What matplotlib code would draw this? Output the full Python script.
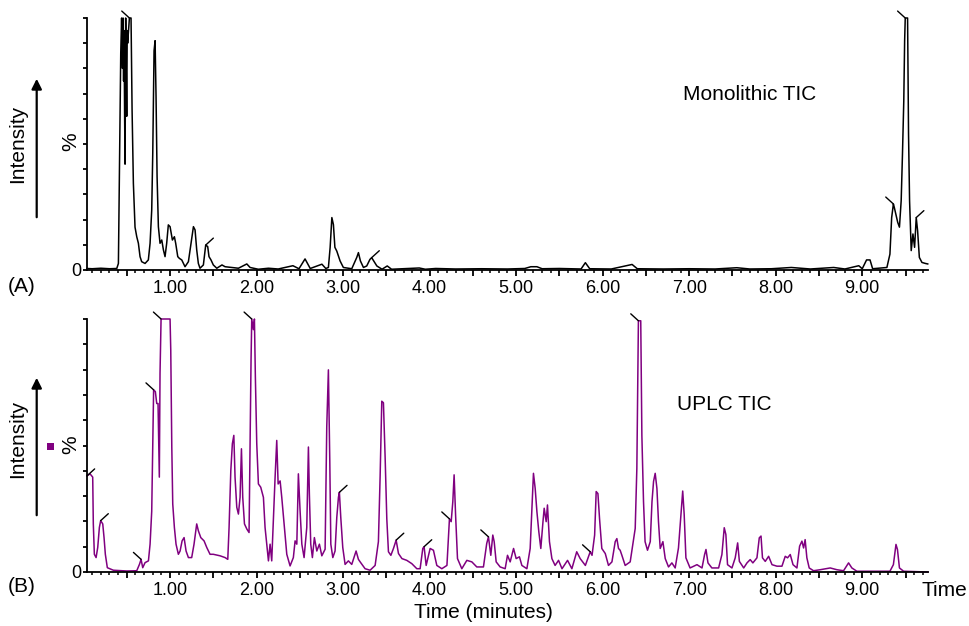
import numpy as np
import matplotlib
matplotlib.use('Agg')
import matplotlib.pyplot as plt
from matplotlib.ticker import MultipleLocator, FuncFormatter
from matplotlib.patches import Rectangle, FancyArrowPatch

plt.rcParams['font.family'] = ['Liberation Sans', 'DejaVu Sans']

# Monolithic TIC trace (time in minutes, intensity in %)
mono_time = [0.04, 0.10, 0.20, 0.30, 0.384, 0.403, 0.414, 0.43, 0.44, 0.45, 0.457, 0.463, 0.468, 0.475, 0.48,
             0.487, 0.493, 0.499, 0.505, 0.51,
             0.53, 0.549, 0.561, 0.576, 0.595, 0.615, 0.634, 0.653, 0.672, 0.711, 0.749, 0.769, 0.788, 0.80,
             0.815, 0.827, 0.838, 0.85, 0.865, 0.884, 0.904, 0.923, 0.942, 0.961, 0.98, 1.0, 1.027, 1.05,
             1.065, 1.089, 1.108, 1.135, 1.173, 1.212, 1.243, 1.27, 1.289, 1.308, 1.327, 1.346, 1.385, 1.412,
             1.435, 1.45, 1.473, 1.5, 1.54, 1.6, 1.636, 1.713, 1.79, 1.887, 1.925, 2.02, 2.137, 2.25, 2.42,
             2.49, 2.56, 2.62, 2.755, 2.80, 2.83, 2.85, 2.87, 2.888, 2.905, 2.927, 2.965, 3.003, 3.1, 3.158,
             3.177, 3.2, 3.235, 3.273, 3.31, 3.33, 3.39, 3.45, 3.51, 3.56, 3.7, 3.88, 3.95, 4.07, 4.3, 4.6,
             4.9, 5.1, 5.17, 5.24, 5.3, 5.5, 5.75, 5.80, 5.85, 6.1, 6.34, 6.4, 6.7, 7.0, 7.3, 7.55, 7.7, 7.95,
             8.18, 8.4, 8.67, 8.8, 8.96, 9.0, 9.05, 9.09, 9.12, 9.285, 9.32, 9.34, 9.36, 9.37, 9.41, 9.43,
             9.45, 9.465, 9.48, 9.49, 9.497, 9.524, 9.535, 9.547, 9.566, 9.586, 9.605, 9.624, 9.64, 9.66,
             9.69, 9.73, 9.757]
mono_int = [0.6, 0.5, 0.7, 0.5, 0.6, 2.6, 37, 86, 100, 80, 100, 75, 95, 60, 42,
            100, 80, 61, 95, 90,
            100, 100, 63.5, 34.4, 17, 13.2, 10.6, 5.3, 3.3, 2.6, 4.0, 10.6, 23.8, 46.3,
            87, 91, 68.8, 37, 17.2, 10.6, 11.9, 8, 5.3, 10.6, 17.9, 17.2, 11.9, 13.2,
            10.6, 5.3, 4.6, 4.0, 1.3, 3.3, 10.6, 17.2, 15.9, 8, 2.6, 0.7, 2.0, 9.9,
            9.3, 5.3, 4.0, 2.0, 0.7, 2.0, 1.3, 1.0, 0.7, 2.4, 1.0, 0.3, 0.7, 0.4, 1.7,
            0.5, 4.4, 0.6, 2.3, 0.6, 1.0, 8.9, 20.8, 18, 9, 7.5, 3.6, 1.0, 0.5, 5,
            6.9, 3.6, 1.0, 1.6, 4.2, 4.9, 1.6, 0.3, 1.6, 0.3, 0.5, 0.8, 0.3, 0.6, 0.4, 0.5,
            0.4, 0.6, 1.3, 1.3, 0.5, 0.6, 0.4, 2.9, 0.5, 0.4, 2.2, 0.5, 0.4, 0.5, 0.4, 0.9, 0.4, 0.5,
            1.0, 0.4, 1.0, 0.4, 1.7, 0.5, 4, 4, 0.5, 1.0, 6.3, 20.8, 26.2, 24.9, 18.9, 17,
            27.5, 46, 67, 91, 100, 100, 54, 27.5, 7.7, 14.3, 9, 20.8, 15.5, 5,
            3, 2.6, 2.4]

# UPLC TIC trace
uplc_time = [0.04, 0.075, 0.106, 0.113, 0.125, 0.145, 0.164, 0.183, 0.198, 0.222, 0.237, 0.252, 0.275, 0.345,
             0.5, 0.615, 0.646, 0.665, 0.684, 0.711, 0.75, 0.769, 0.788, 0.8, 0.81, 0.83, 0.846, 0.861, 0.876,
             0.884, 0.896, 1.0, 1.008, 1.02, 1.031, 1.05, 1.069, 1.096, 1.116, 1.139, 1.162, 1.185, 1.212,
             1.25, 1.277, 1.308, 1.327, 1.355, 1.393, 1.424, 1.462, 1.5, 1.578, 1.636, 1.667, 1.682, 1.702,
             1.72, 1.737, 1.751, 1.771, 1.79, 1.809, 1.825, 1.84, 1.86, 1.887, 1.913, 1.925, 1.936, 1.944,
             1.963, 1.975, 1.986, 2.002, 2.021, 2.048, 2.079, 2.098, 2.118, 2.137, 2.156, 2.175, 2.195, 2.214,
             2.233, 2.249, 2.272, 2.291, 2.318, 2.349, 2.387, 2.425, 2.445, 2.465, 2.483, 2.503, 2.523, 2.549,
             2.58, 2.599, 2.61, 2.626, 2.645, 2.668, 2.696, 2.726, 2.754, 2.792, 2.811, 2.83, 2.846, 2.858,
             2.881, 2.907, 2.927, 2.946, 2.957, 2.973, 2.996, 3.023, 3.061, 3.1, 3.15, 3.177, 3.197, 3.254,
             3.312, 3.37, 3.408, 3.428, 3.447, 3.466, 3.486, 3.505, 3.524, 3.552, 3.582, 3.613, 3.64, 3.68,
             3.736, 3.794, 3.852, 3.89, 3.921, 3.936, 3.96, 4.006, 4.044, 4.083, 4.141, 4.2, 4.229, 4.249,
             4.268, 4.283, 4.3, 4.322, 4.372, 4.43, 4.488, 4.545, 4.622, 4.66, 4.68, 4.707, 4.73, 4.746,
             4.769, 4.815, 4.873, 4.9, 4.931, 4.97, 5.0, 5.038, 5.066, 5.124, 5.162, 5.185, 5.2, 5.22, 5.24,
             5.262, 5.285, 5.31, 5.324, 5.347, 5.362, 5.385, 5.413, 5.45, 5.49, 5.53, 5.594, 5.644, 5.7,
             5.74, 5.8, 5.856, 5.877, 5.907, 5.925, 5.945, 5.964, 5.99, 6.03, 6.067, 6.107, 6.145, 6.164,
             6.183, 6.202, 6.222, 6.26, 6.318, 6.376, 6.395, 6.413, 6.44, 6.453, 6.472, 6.49, 6.518, 6.55,
             6.57, 6.588, 6.607, 6.627, 6.645, 6.665, 6.696, 6.723, 6.761, 6.8, 6.838, 6.876, 6.905, 6.925,
             6.942, 6.962, 7.01, 7.09, 7.148, 7.178, 7.194, 7.217, 7.262, 7.34, 7.378, 7.405, 7.424, 7.443,
             7.494, 7.532, 7.56, 7.58, 7.63, 7.668, 7.705, 7.736, 7.783, 7.81, 7.83, 7.847, 7.879, 7.918,
             7.957, 8.014, 8.072, 8.11, 8.137, 8.168, 8.2, 8.245, 8.276, 8.303, 8.322, 8.34, 8.36, 8.387,
             8.437, 8.514, 8.63, 8.707, 8.784, 8.842, 8.88, 8.938, 9.13, 9.32, 9.36, 9.39, 9.407, 9.43,
             9.478, 9.76]
uplc_int = [38, 38.8, 37.5, 19, 7, 5.7, 9.7, 17.6, 20.3, 19, 13.6, 7, 1.7, 0.7,
            0.4, 0.5, 3, 5, 1.7, 3.7, 4.4, 11, 24, 50.7, 72, 71.3, 66.6, 66.6, 37.5,
            78.5, 100, 100, 87.8, 49.4, 26.9, 17.6, 11, 7, 8.3, 12.3, 13.6, 8.3, 5.7,
            5.7, 11, 19, 16.3, 13.6, 12.3, 9.7, 7, 7, 6.4, 5.7, 5, 17.6, 40,
            50.7, 54, 37.5, 25.6, 22.9, 29.5, 48.7, 29.5, 19, 17, 15.6, 50.7, 83.8, 100,
            95.8, 100, 77, 50.7, 34.8, 33.5, 29.5, 17.6, 11, 4.4, 11, 4.4, 21.6, 37.5,
            52, 34.8, 36, 29.5, 19, 7, 2.4, 5.7, 12.3, 11, 38.8, 24, 11, 5.7,
            17.6, 49.4, 30.9, 11, 5.7, 13.6, 8.3, 11, 6.4, 9, 57.4, 79.9, 44, 11,
            5.7, 8.3, 21.6, 29.5, 31.5, 21.6, 9.7, 3, 4.4, 3, 8.3, 5, 4, 1.3,
            0.7, 2.6, 12, 38, 67.5, 66.9, 45, 21, 8, 6.6, 9.3, 12.6, 7.3, 5.3,
            4.6, 3.3, 1.3, 1.3, 9.3, 10, 2.6, 9.3, 8.6, 2.6, 1.3, 2.6, 21, 19.9,
            27.8, 38.4, 22.5, 5.3, 1.3, 4.6, 4, 2, 2, 11.3, 13.9, 6.6, 14.6, 12,
            4, 2, 1.3, 6.6, 4, 9.3, 5.3, 6, 2.6, 1.3, 9.3, 27.8, 39, 33, 23.8,
            15.9, 9.3, 19.9, 25.2, 19.9, 26.5, 12, 5.3, 2.6, 4.6, 1.3, 4.6, 1.3, 8,
            5.3, 2.6, 8, 6.6, 14.6, 31.8, 31, 21, 9.3, 7.3, 2.6, 4, 12, 13.2,
            9.3, 8.6, 6.6, 2.6, 4, 17.2, 41, 99.3, 99.3, 54, 27.8, 12, 8.6, 12,
            27.8, 35.8, 39, 33, 19.9, 9.3, 12, 5.3, 2, 3.6, 1.6, 9.5, 22.8, 32,
            22.8, 5.6, 1.6, 2.9, 1.6, 6.9, 8.9, 3.6, 1.6, 1.6, 6.9, 17.5, 14.8, 2.9,
            1.6, 5.6, 11.5, 4.2, 1.6, 3.6, 4.9, 3.6, 5.6, 13.5, 14.2, 5.6, 4.2, 6.2,
            2.9, 2.3, 2.3, 6.2, 5.6, 6.9, 2.9, 1.6, 10.2, 12.2, 9.5, 12.8, 5.6, 1.6,
            0.5, 0.9, 1.6, 0.9, 0.5, 3.6, 1.6, 0.3, 0.3, 0.3, 2.9, 10.9, 8.9, 1.6,
            0.3, 0.0]

# labelled peaks: (time, mark direction)
mono_marks = [(0.53, 'ul'), (1.412, 'ur'), (3.33, 'ur'), (9.36, 'ul'), (9.497, 'ul'), (9.624, 'ur')]
uplc_marks = [(0.04, 'ur'), (0.198, 'ur'), (0.665, 'ul'), (0.81, 'ul'), (0.896, 'ul'), (1.944, 'ul'),
              (2.957, 'ur'), (3.613, 'ur'), (3.936, 'ur'), (4.229, 'ul'), (4.68, 'ul'), (5.856, 'ul'),
              (6.413, 'ul')]

W, H = 969, 626
fig = plt.figure(figsize=(W / 100, H / 100), dpi=100)


def fx(px):
    return px / W


def fy(py):
    return 1 - py / H


def setup_axes(ax):
    ax.set_xlim(0.04, 9.76)
    ax.set_ylim(0, 100)
    for s in ['top', 'right']:
        ax.spines[s].set_visible(False)
    for s in ['left', 'bottom']:
        ax.spines[s].set_linewidth(1.3)
    ax.xaxis.set_major_locator(MultipleLocator(0.5))
    ax.xaxis.set_minor_locator(MultipleLocator(0.1))
    ax.xaxis.set_major_formatter(FuncFormatter(
        lambda v, p: '%.2f' % v if abs(v - round(v)) < 1e-6 else ''))
    ax.set_yticks(np.arange(0, 101, 10))
    ax.set_yticklabels(['0'] + [''] * 10)
    ax.tick_params(axis='x', which='major', direction='out', length=4, width=1.3, pad=3, labelsize=13)
    ax.tick_params(axis='x', which='minor', direction='out', length=2.4, width=1.1)
    ax.tick_params(axis='y', which='major', direction='out', length=3, width=1.3, pad=1, labelsize=13)


def draw_marks(ax, t, y, marks):
    t = np.array(t)
    y = np.array(y)
    for mt, d in marks:
        i = int(np.argmin(np.abs(t - mt)))
        dx = 5.5 if d == 'ur' else -5.5
        ax.annotate('', xy=(t[i], y[i]), xytext=(dx, 5), textcoords='offset points',
                    arrowprops=dict(arrowstyle='-', color='black', lw=1.0, shrinkA=0, shrinkB=0),
                    annotation_clip=False)


# top panel
ax1 = fig.add_axes([fx(87), fy(270), fx(928 - 87), (270 - 18) / H])
setup_axes(ax1)
ax1.plot(mono_time, mono_int, color='black', lw=1.1, clip_on=False)
draw_marks(ax1, mono_time, mono_int, mono_marks)

# bottom panel
ax2 = fig.add_axes([fx(87), fy(572), fx(928 - 87), (572 - 319) / H])
setup_axes(ax2)
ax2.plot(uplc_time, uplc_int, color='#800080', lw=1.1, clip_on=False)
draw_marks(ax2, uplc_time, uplc_int, uplc_marks)

# panel text
fig.text(fx(683), fy(95), 'Monolithic TIC', fontsize=15, ha='left', va='center')
fig.text(fx(677), fy(404), 'UPLC TIC', fontsize=15, ha='left', va='center')
fig.text(fx(21.5), fy(286), '(A)', fontsize=15, ha='center', va='center')
fig.text(fx(21.5), fy(587), '(B)', fontsize=15, ha='center', va='center')
fig.text(fx(922), fy(590), 'Time', fontsize=15, ha='left', va='center')
fig.text(fx(414), fy(613), 'Time (minutes)', fontsize=15, ha='left', va='center')

for cy, top, bot in [(144, 76, 220), (439, 375, 518)]:
    fig.text(fx(17.5), fy(cy), 'Intensity', fontsize=15, rotation=90, ha='center', va='center')
    fig.add_artist(FancyArrowPatch(
        (fx(36.7), fy(bot)), (fx(36.7), fy(top)), transform=fig.transFigure,
        arrowstyle='-|>,head_length=6,head_width=3', color='black', lw=1.6, mutation_scale=1))

fig.text(fx(70.5), fy(142), '%', fontsize=15, rotation=90, ha='center', va='center')
fig.text(fx(70.5), fy(445), '%', fontsize=15, rotation=90, ha='center', va='center')
fig.add_artist(Rectangle((fx(47), fy(449.5)), fx(7), 7 / H, transform=fig.transFigure,
                         color='#800080', lw=0))

fig.savefig('out.png', dpi=100)
